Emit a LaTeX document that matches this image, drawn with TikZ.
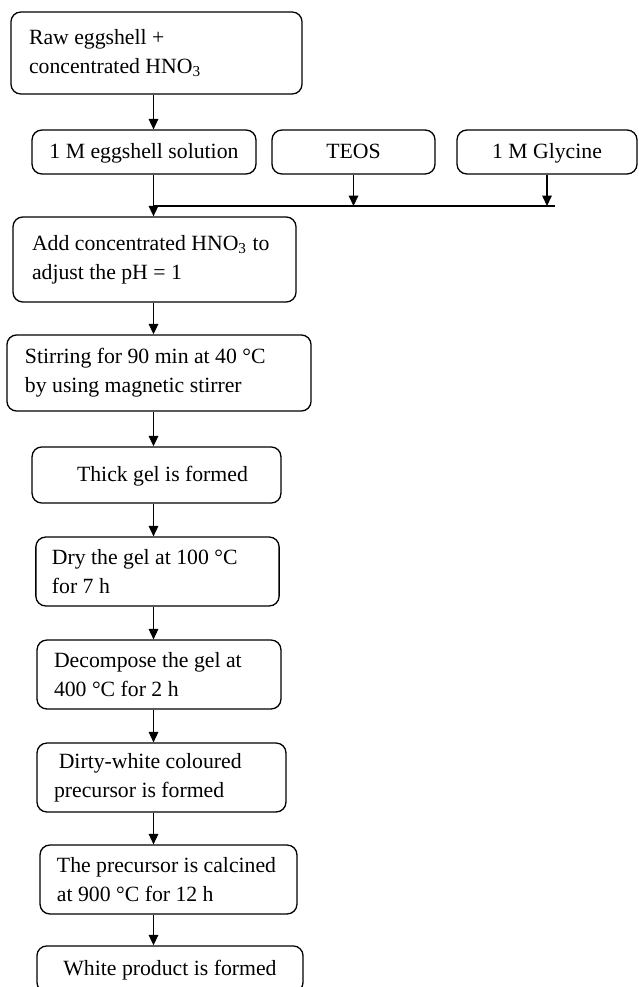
\documentclass[tikz,border=0pt]{standalone}
\usepackage{fontspec}
\setmainfont{Liberation Serif}
\usetikzlibrary{arrows.meta}

\tikzset{
	procbox/.style={draw, rounded corners=4.5pt, line width=0.6pt, align=flush left, inner ysep=0pt,
		font=\fontsize{10}{13.3}\selectfont},
	inbox/.style={draw, rounded corners=4.5pt, line width=0.6pt, align=center, inner sep=0pt,
		text height=7.5pt, text depth=1.5pt, minimum height=20.2pt, font=\fontsize{10}{13.3}\selectfont},
	arr/.style={-{Triangle[length=4.8pt,width=4.4pt]}, line width=0.6pt}
}

\begin{document}
\begin{tikzpicture}[x=0.46pt, y=-0.46pt]

	\useasboundingbox (0,0) rectangle (638,987);
	\coordinate (spine) at (153.5,0);
	\coordinate (jend) at (555,206);

	\node[procbox, minimum width=133.9pt, minimum height=37.7pt, inner xsep=8.3pt, text width=117.3pt] (raw) at (156.5,53)
		{Raw eggshell +\\concentrated HNO\textsubscript{3}};

	\node[inbox, minimum width=103pt] (sol) at (144,152) {1 M eggshell solution};
	\node[inbox, minimum width=75pt] (teos) at (353.5,152) {TEOS};
	\node[inbox, minimum width=82.8pt] (gly) at (547,152) {1 M Glycine};

	\node[procbox, minimum width=130.2pt, minimum height=39.1pt, inner xsep=8.7pt, text width=112.7pt] (add) at (154.5,259.5)
		{Add concentrated HNO\textsubscript{3} to\\adjust the pH = 1};
	\node[procbox, minimum width=139.8pt, minimum height=35pt, inner xsep=8.3pt, text width=123.3pt] (stir) at (159,373)
		{Stirring for 90 min at 40~°C\\by using magnetic stirrer};
	\node[inbox, minimum width=114.5pt, minimum height=25.8pt] (gel) at (156.5,475)
		{\hspace*{5.5pt}Thick gel is formed};
	\node[procbox, minimum width=111.8pt, minimum height=31.7pt, inner xsep=7.4pt, text width=97.1pt] (dry) at (157.5,571.5)
		{Dry the gel at 100~°C\\for 7 h};
	\node[procbox, minimum width=112.2pt, minimum height=31.7pt, inner xsep=7.8pt, text width=96.6pt] (dec) at (159,674.5)
		{Decompose the gel at\\400~°C for 2 h};
	\node[procbox, minimum width=114.5pt, minimum height=31.7pt, inner xsep=7.8pt, text width=98.9pt] (dirt) at (161.5,777.5)
		{\hspace*{2.2pt}Dirty-white coloured\\precursor is formed};
	\node[procbox, minimum width=118.2pt, minimum height=31.7pt, inner xsep=7.8pt, text width=102.6pt] (calc) at (168.5,879.5)
		{The precursor is calcined\\at 900~°C for 12 h};
	\node[inbox, minimum width=122.4pt, minimum height=21.2pt] (white) at (170,969) {White product is formed};

	\draw[arr] (raw.south -| spine) -- (sol.north -| spine);
	\draw[arr] (sol.south -| spine) -- (add.north -| spine);
	\draw[arr] (teos.south) -- (teos.south |- jend);
	\draw[arr] (gly.south) -- (gly.south |- jend);
	\draw[line width=0.6pt] (spine |- jend) -- (jend);
	\draw[arr] (add.south -| spine) -- (stir.north -| spine);
	\draw[arr] (stir.south -| spine) -- (gel.north -| spine);
	\draw[arr] (gel.south -| spine) -- (dry.north -| spine);
	\draw[arr] (dry.south -| spine) -- (dec.north -| spine);
	\draw[arr] (dec.south -| spine) -- (dirt.north -| spine);
	\draw[arr] (dirt.south -| spine) -- (calc.north -| spine);
	\draw[arr] (calc.south -| spine) -- (white.north -| spine);

\end{tikzpicture}
\end{document}
